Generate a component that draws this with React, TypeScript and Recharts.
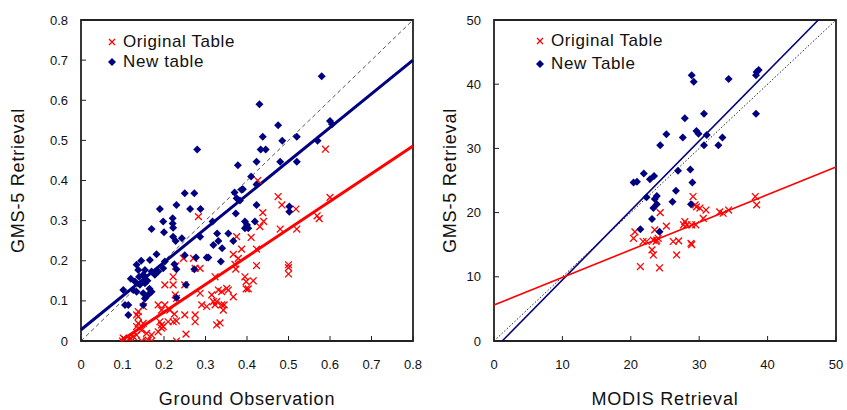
import {
  ScatterChart,
  Scatter,
  XAxis,
  YAxis,
  ReferenceLine,
  ReferenceArea,
  Legend,
} from 'recharts'

type Pt = [number, number]

const FONT = '"Liberation Sans", Arial, sans-serif'
const RED = '#ff0000'
const NAVY = '#000080'

const groundTicks = [0, 0.1, 0.2, 0.3, 0.4, 0.5, 0.6, 0.7, 0.8]
const modisTicks = [0, 10, 20, 30, 40, 50]

// left panel: ground observation vs GMS-5 retrieval
const groundOriginal: Pt[] = [
  [0.589, 0.478], [0.426, 0.4], [0.475, 0.36], [0.484, 0.339], [0.518, 0.329], [0.6, 0.358],
  [0.438, 0.32], [0.569, 0.312], [0.574, 0.305], [0.283, 0.31], [0.52, 0.279], [0.48, 0.279],
  [0.5, 0.19], [0.5, 0.183], [0.5, 0.167], [0.423, 0.188], [0.395, 0.16], [0.415, 0.15],
  [0.398, 0.148], [0.398, 0.13], [0.403, 0.13], [0.371, 0.191], [0.387, 0.229], [0.423, 0.229],
  [0.367, 0.216], [0.379, 0.206], [0.44, 0.298], [0.431, 0.285], [0.41, 0.258], [0.375, 0.26],
  [0.351, 0.131], [0.367, 0.11], [0.339, 0.123], [0.339, 0.09], [0.343, 0.077], [0.335, 0.045],
  [0.247, 0.206], [0.271, 0.206], [0.275, 0.181], [0.287, 0.181], [0.228, 0.187], [0.373, 0.179],
  [0.323, 0.16], [0.222, 0.16], [0.202, 0.14], [0.222, 0.14], [0.25, 0.14], [0.227, 0.115],
  [0.23, 0.106], [0.202, 0.09], [0.287, 0.119], [0.291, 0.09], [0.275, 0.065], [0.25, 0.065],
  [0.315, 0.115], [0.323, 0.09], [0.331, 0.127], [0.355, 0.127], [0.327, 0.098], [0.303, 0.086],
  [0.319, 0.098], [0.345, 0.09], [0.327, 0.04], [0.253, 0.017], [0.23, 0], [0.23, 0.05],
  [0.275, 0.048], [0.214, 0.077], [0.225, 0.067], [0.186, 0.09], [0.194, 0.077], [0.194, 0.04],
  [0.222, 0.048], [0.19, 0.048], [0.194, 0.032], [0.21, 0.048], [0.15, 0.086], [0.138, 0.073],
  [0.134, 0.065], [0.138, 0.061], [0.138, 0.044], [0.134, 0.036], [0.15, 0.044], [0.146, 0.027],
  [0.134, 0.015], [0.118, 0.007], [0.102, 0.007], [0.126, 0.011], [0.158, 0.019], [0.17, 0.015],
  [0.162, 0.002], [0.11, 0], [0.122, 0], [0.1, 0], [0.146, 0], [0.158, 0], [0.17, 0],
  [0.186, 0.023], [0.198, 0.036],
]

const groundNew: Pt[] = [
  [0.58, 0.66], [0.43, 0.59], [0.475, 0.538], [0.6, 0.548], [0.605, 0.54], [0.438, 0.509],
  [0.485, 0.499], [0.52, 0.509], [0.57, 0.499], [0.28, 0.477], [0.433, 0.477], [0.445, 0.477],
  [0.378, 0.438], [0.423, 0.447], [0.48, 0.447], [0.52, 0.447], [0.41, 0.41], [0.423, 0.39],
  [0.39, 0.378], [0.37, 0.37], [0.375, 0.356], [0.383, 0.35], [0.387, 0.377], [0.25, 0.368],
  [0.273, 0.368], [0.19, 0.329], [0.23, 0.339], [0.263, 0.329], [0.288, 0.329], [0.373, 0.318],
  [0.423, 0.339], [0.221, 0.306], [0.221, 0.293], [0.222, 0.282], [0.198, 0.298], [0.17, 0.279],
  [0.2, 0.271], [0.222, 0.26], [0.228, 0.249], [0.243, 0.256], [0.287, 0.26], [0.317, 0.298],
  [0.328, 0.268], [0.355, 0.268], [0.331, 0.249], [0.319, 0.239], [0.34, 0.231], [0.367, 0.249],
  [0.395, 0.298], [0.4, 0.289], [0.395, 0.281], [0.403, 0.281], [0.419, 0.298], [0.502, 0.335],
  [0.502, 0.322], [0.182, 0.216], [0.166, 0.202], [0.202, 0.198], [0.225, 0.191], [0.277, 0.208],
  [0.303, 0.208], [0.307, 0.208], [0.337, 0.198], [0.273, 0.179], [0.134, 0.19], [0.138, 0.177],
  [0.154, 0.177], [0.15, 0.165], [0.17, 0.173], [0.178, 0.165], [0.186, 0.173], [0.198, 0.181],
  [0.102, 0.127], [0.13, 0.148], [0.142, 0.14], [0.154, 0.144], [0.134, 0.123], [0.15, 0.119],
  [0.162, 0.115], [0.154, 0.106], [0.106, 0.09], [0.114, 0.09], [0.15, 0.09], [0.114, 0.065],
  [0.126, 0.127], [0.14, 0.16], [0.23, 0.179], [0.253, 0.14], [0.23, 0.108], [0.12, 0.155],
  [0.165, 0.13], [0.145, 0.2], [0.16, 0.15], [0.17, 0.123], [0.25, 0.214],
]

// right panel: MODIS retrieval vs GMS-5 retrieval
const modisOriginal: Pt[] = [
  [29.1, 22.5], [24.3, 20], [29.6, 20.9], [30.1, 20.7], [31, 20.4], [30.6, 19.1], [33, 20.1],
  [34.3, 20.4], [33.5, 19.9], [38.2, 22.5], [38.4, 21.2], [27.9, 18.6], [27.7, 18.1], [29.5, 18.1],
  [28.9, 18.1], [20.6, 17], [20.4, 16], [21.8, 15.5], [22.3, 15.5], [23.3, 15.7], [23.8, 15.7],
  [24, 16], [23.7, 15.5], [23.5, 17.3], [26.2, 15.5], [27, 15.6], [28.8, 15.2], [28.9, 15],
  [23.1, 14.2], [23.3, 13.4], [26.7, 13.4], [21.4, 11.6], [24.2, 11.4], [25.2, 17.9], [28.2, 18.1],
  [29.4, 21.2],
]

const modisNew: Pt[] = [
  [28.9, 41.4], [29.2, 40.4], [34.3, 40.8], [38.3, 41.4], [38.7, 42.2], [38.4, 41.9], [38.3, 35.4],
  [27.9, 34.7], [30.7, 35.4], [25.2, 32.2], [27.6, 31.7], [29.6, 32.7], [29.9, 32.3], [31.1, 32.1],
  [30.7, 30.5], [32.8, 30.5], [33.4, 31.7], [24.3, 30.5], [21.9, 26.1], [23.4, 25.7], [22.8, 25.2],
  [20.4, 24.7], [20.9, 24.8], [26.9, 26.5], [28.7, 26.7], [29, 24.7], [26.6, 23.4], [23.8, 22.6],
  [22.3, 22.4], [23.5, 22.1], [23.8, 21.3], [23.3, 20.7], [26.1, 21.7], [28.8, 21.3], [23.1, 19],
  [21.4, 17.4], [24.2, 17],
]

// fitted regression lines (slope, intercept)
const groundOriginalFit = { slope: 0.69, intercept: -0.066 }
const groundNewFit = { slope: 0.84, intercept: 0.028 }
const modisOriginalFit = { slope: 0.43, intercept: 5.6 }
const modisNewFit = { slope: 1.082, intercept: -1.3 }

const toXY = (pts: Pt[]) => pts.map(([x, y]) => ({ x, y }))

// clip a fitted line to the square domain [0, max]
function fitSegment(fit: { slope: number; intercept: number }, max: number) {
  let x0 = 0
  let x1 = max
  if (fit.intercept < 0) x0 = -fit.intercept / fit.slope
  if (fit.slope * max + fit.intercept > max) x1 = (max - fit.intercept) / fit.slope
  return [
    { x: x0, y: fit.slope * x0 + fit.intercept },
    { x: x1, y: fit.slope * x1 + fit.intercept },
  ]
}

const Cross = (props: any) => {
  const { cx, cy } = props
  if (cx == null || cy == null) return null
  const r = 3.4
  return (
    <path
      d={`M${cx - r},${cy - r}L${cx + r},${cy + r}M${cx - r},${cy + r}L${cx + r},${cy - r}`}
      stroke={RED}
      strokeWidth={1.3}
      fill="none"
    />
  )
}

const Diamond = (props: any) => {
  const { cx, cy } = props
  if (cx == null || cy == null) return null
  const r = 4
  return <path d={`M${cx},${cy - r}L${cx + r},${cy}L${cx},${cy + r}L${cx - r},${cy}Z`} fill={NAVY} />
}

function LegendBox({ labels, rowHeight }: { labels: [string, string]; rowHeight: number }) {
  return (
    <div
      style={{
        fontFamily: FONT,
        fontSize: 17,
        letterSpacing: 0.6,
        color: '#111',
        lineHeight: `${rowHeight}px`,
        whiteSpace: 'nowrap',
      }}
    >
      <div style={{ display: 'flex', alignItems: 'center', height: rowHeight }}>
        <svg width={12} height={12} style={{ marginRight: 5 }}>
          <path d="M3,3L9,9M3,9L9,3" stroke={RED} strokeWidth={1.3} />
        </svg>
        {labels[0]}
      </div>
      <div style={{ display: 'flex', alignItems: 'center', height: rowHeight }}>
        <svg width={12} height={12} style={{ marginRight: 5 }}>
          <path d="M6,2L10,6L6,10L2,6Z" fill={NAVY} />
        </svg>
        {labels[1]}
      </div>
    </div>
  )
}

const tickStyle = { fill: '#111', fontSize: 13, fontFamily: FONT }
const titleStyle = { fill: '#111', fontSize: 18, fontFamily: FONT, letterSpacing: 0.8 }

function Panel(props: {
  width: number
  yAxisWidth: number
  marginRight: number
  max: number
  ticks: number[]
  fmt: (v: number) => string
  original: Pt[]
  fresh: Pt[]
  originalFit: { slope: number; intercept: number }
  newFit: { slope: number; intercept: number }
  xTitle: string
  legendLabels: [string, string]
  legendPos: { left: number; top: number; rowHeight: number }
  yTitleOffset: number
  thick: boolean
  dash: string
  oneToOneColor: string
}) {
  const { max } = props
  return (
    <ScatterChart
      width={props.width}
      height={410}
      margin={{ top: 20, right: props.marginRight, bottom: 0, left: 0 }}
      style={{ fontFamily: FONT }}
    >
      <XAxis
        type="number"
        dataKey="x"
        domain={[0, max]}
        ticks={props.ticks}
        tickFormatter={props.fmt}
        height={69}
        axisLine={false}
        tickSize={-5}
        tickMargin={24}
        tickLine={{ stroke: '#222' }}
        tick={tickStyle}
        allowDataOverflow
        label={{ value: props.xTitle, position: 'insideBottom', offset: 5, style: titleStyle }}
      />
      <YAxis
        type="number"
        dataKey="y"
        domain={[0, max]}
        ticks={props.ticks}
        tickFormatter={props.fmt}
        width={props.yAxisWidth}
        axisLine={false}
        tickSize={-5}
        tickMargin={18}
        tickLine={{ stroke: '#222' }}
        tick={tickStyle}
        allowDataOverflow
        label={{
          value: 'GMS-5 Retrieval',
          angle: -90,
          position: 'insideLeft',
          offset: props.yTitleOffset,
          style: { ...titleStyle, textAnchor: 'middle' },
        }}
      />
      <ReferenceArea x1={0} x2={max} y1={0} y2={max} fill="none" stroke="#222" strokeWidth={1.8} />
      <ReferenceLine
        segment={[{ x: 0, y: 0 }, { x: max, y: max }]}
        stroke={props.oneToOneColor}
        strokeDasharray={props.dash}
        strokeWidth={1}
      />
      <ReferenceLine
        segment={fitSegment(props.newFit, max)}
        stroke={NAVY}
        strokeWidth={props.thick ? 3 : 1.6}
      />
      <ReferenceLine
        segment={fitSegment(props.originalFit, max)}
        stroke={RED}
        strokeWidth={props.thick ? 3 : 1.6}
      />
      <Scatter data={toXY(props.original)} shape={Cross} isAnimationActive={false} />
      <Scatter data={toXY(props.fresh)} shape={Diamond} isAnimationActive={false} />
      <Legend
        layout="horizontal"
        verticalAlign="middle"
        align="center"
        wrapperStyle={{ left: props.legendPos.left, top: props.legendPos.top, width: 200 }}
        content={() => <LegendBox labels={props.legendLabels} rowHeight={props.legendPos.rowHeight} />}
      />
    </ScatterChart>
  )
}

export default function App() {
  return (
    <div
      style={{
        position: 'absolute',
        left: 0,
        top: 0,
        width: 847,
        height: 410,
        background: '#fff',
        fontFamily: FONT,
      }}
    >
      <div style={{ position: 'absolute', left: 0, top: 0 }}>
        <Panel
          width={425}
          yAxisWidth={81}
          marginRight={12}
          max={0.8}
          ticks={groundTicks}
          fmt={(v) => (v === 0 ? '0' : v.toFixed(1))}
          original={groundOriginal}
          fresh={groundNew}
          originalFit={groundOriginalFit}
          newFit={groundNewFit}
          xTitle="Ground Observation"
          legendLabels={['Original Table', 'New table']}
          legendPos={{ left: 106, top: 32, rowHeight: 20 }}
          yTitleOffset={18}
          thick
          dash="4 3"
          oneToOneColor="#555"
        />
      </div>
      <div style={{ position: 'absolute', left: 425, top: 0 }}>
        <Panel
          width={422}
          yAxisWidth={69}
          marginRight={11}
          max={50}
          ticks={modisTicks}
          fmt={(v) => String(v)}
          original={modisOriginal}
          fresh={modisNew}
          originalFit={modisOriginalFit}
          newFit={modisNewFit}
          xTitle="MODIS Retrieval"
          legendLabels={['Original Table', 'New Table']}
          legendPos={{ left: 109, top: 29, rowHeight: 23 }}
          yTitleOffset={25}
          thick={false}
          dash="1.5 2"
          oneToOneColor="#222"
        />
      </div>
    </div>
  )
}
